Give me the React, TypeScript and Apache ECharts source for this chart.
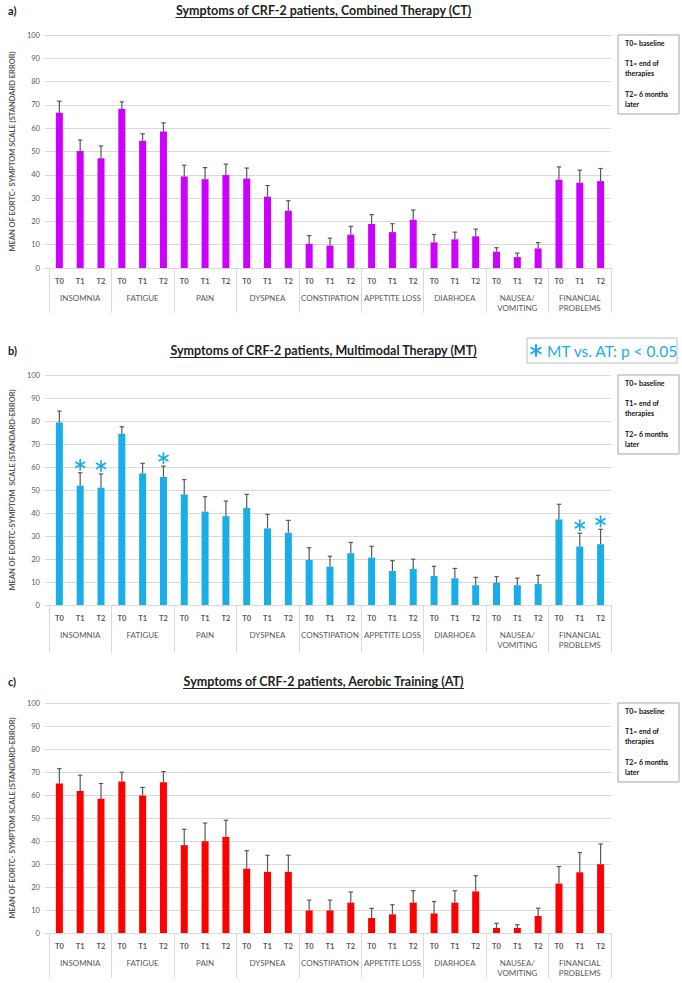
import React, { useEffect, useRef } from "react";
import * as echarts from "echarts";

// ---------- data ----------
const categories = [
  "INSOMNIA",
  "FATIGUE",
  "PAIN",
  "DYSPNEA",
  "CONSTIPATION",
  "APPETITE LOSS",
  "DIARHOEA",
  "NAUSEA/\nVOMITING",
  "FINANCIAL\nPROBLEMS",
];
const timepoints = ["T0", "T1", "T2"];
const yTicks = { min: 0, max: 100, interval: 10 };

// Combined Therapy (CT)
const ctMeans = [66.6, 50.2, 47.1, 68.3, 54.6, 58.6, 39.3, 38.1, 39.9, 38.4, 30.6, 24.6, 10.4, 9.6, 14.3, 18.9, 15.4, 20.7, 11, 12.3, 13.6, 7, 4.7, 8.4, 37.9, 36.6, 37.3];
const ctSE = [5, 4.7, 5.3, 3, 3, 3.7, 4.8, 5, 4.7, 4.5, 4.8, 4.3, 3.5, 3.2, 3.6, 4, 3.6, 4.2, 3.4, 3.1, 3.1, 1.7, 1.7, 2.5, 5.5, 5.4, 5.4];

// Multimodal Therapy (MT)
const mtMeans = [79.4, 51.9, 51, 74.5, 57.2, 55.7, 48.1, 40.6, 38.6, 42.2, 33.3, 31.4, 19.6, 16.7, 22.5, 20.6, 14.8, 15.7, 12.6, 11.6, 8.6, 9.7, 8.6, 9.1, 37.2, 25.4, 26.4];
const mtSE = [4.9, 5.6, 6, 3, 4.4, 4.7, 6.4, 6.5, 6.6, 5.9, 6.1, 5.4, 5.3, 4.5, 4.7, 4.9, 4.5, 4.2, 4.2, 4.3, 3.4, 2.6, 3.1, 3.8, 6.6, 5.8, 6.5];
const mtSignificant = [1, 2, 5, 25, 26]; // bar indices marked with * (MT vs. AT: p < 0.05)

// Aerobic Training (AT)
const atMeans = [65, 61.7, 58.4, 65.9, 59.8, 65.5, 38.2, 39.9, 41.8, 28, 26.6, 26.6, 9.8, 9.8, 13.2, 6.5, 8.1, 13.2, 8.5, 13.2, 18.1, 2.2, 2.2, 7.4, 21.5, 26.4, 29.9];
const atSE = [6.5, 6.9, 6.6, 4, 3.5, 4.7, 6.9, 7.9, 7.2, 7.8, 7.2, 7.2, 4.5, 4.5, 4.6, 4.2, 4.2, 5.2, 5.2, 5.2, 6.8, 2, 1.4, 3.4, 7.4, 8.6, 8.8];

const legendLines = ["T0= baseline", "T1= end of", "therapies", "T2= 6 months", "later"];
const significanceText = "MT vs. AT: p < 0.05";

// ---------- layout ----------
const W = 682;
const H = 983;
const FONT = "Lato";
const gridLeft = 36;
const gridWidth = 575;
const BLUE = "#19aee8";

const panels = [
  {
    tag: "a)",
    title: "Symptoms of CRF-2 patients, Combined Therapy (CT)",
    yName: "MEAN OF EORTC- SYMPTOM SCALE (STANDARD ERROR)",
    color: "#cc00ff",
    means: ctMeans,
    se: ctSE,
    stars: [] as number[],
    top: 35,
    height: 233,
    titleY: 10,
    tickLen: 45,
  },
  {
    tag: "b)",
    title: "Symptoms of CRF-2 patients, Multimodal Therapy (MT)",
    yName: "MEAN OF EORTC-SYMPTOM  SCALE (STANDARD-ERROR)",
    color: BLUE,
    means: mtMeans,
    se: mtSE,
    stars: mtSignificant,
    top: 375,
    height: 230,
    titleY: 350,
    tickLen: 48,
  },
  {
    tag: "c)",
    title: "Symptoms of CRF-2 patients, Aerobic Training (AT)",
    yName: "MEAN OF EORTC- SYMPTOM SCALE (STANDARD-ERROR)",
    color: "#ff0000",
    means: atMeans,
    se: atSE,
    stars: [] as number[],
    top: 703,
    height: 230,
    titleY: 681,
    tickLen: 45,
  },
];

function measure(text: string, font: string): number {
  const c = document.createElement("canvas").getContext("2d");
  if (!c) return text.length * 6;
  c.font = font;
  return c.measureText(text).width;
}

function starLines(cx: number, cy: number, r: number, color: string, lw: number) {
  return [90, 30, 150].map((deg) => {
    const a = (deg * Math.PI) / 180;
    const dx = r * Math.cos(a);
    const dy = r * Math.sin(a);
    return {
      type: "line",
      shape: { x1: cx - dx, y1: cy - dy, x2: cx + dx, y2: cy + dy },
      style: { stroke: color, lineWidth: lw, lineCap: "round" },
    };
  });
}

export default function App() {
  const ref = useRef<HTMLDivElement>(null);

  useEffect(() => {
    if (!ref.current) return;
    const chart = echarts.init(ref.current, null, { renderer: "svg", width: W, height: H });

    const xData = categories.flatMap((c) => timepoints.map((t) => c + "|" + t));

    const grids: any[] = [];
    const xAxes: any[] = [];
    const yAxes: any[] = [];
    const series: any[] = [];
    const graphics: any[] = [];

    panels.forEach((p, pi) => {
      grids.push({ left: gridLeft, width: gridWidth, top: p.top, height: p.height });
      // time-point level axis
      xAxes.push({
        type: "category",
        gridIndex: pi,
        data: xData,
        position: "bottom",
        axisLine: { show: true, lineStyle: { color: "#d9d9d9", width: 1 } },
        axisTick: { show: false },
        axisLabel: {
          interval: 0,
          margin: 9,
          fontSize: 7.5,
          fontFamily: FONT,
          fontWeight: "bold",
          color: "#595959",
          formatter: (v: string) => v.split("|")[1],
        },
        splitLine: { show: false },
      });
      // symptom level axis
      xAxes.push({
        type: "category",
        gridIndex: pi,
        data: categories,
        position: "bottom",
        axisLine: { show: false },
        axisTick: { show: true, length: p.tickLen, lineStyle: { color: "#d9d9d9", width: 1 } },
        axisLabel: {
          interval: 0,
          margin: 25,
          fontSize: 8,
          lineHeight: 10,
          fontFamily: FONT,
          color: "#595959",
        },
        splitLine: { show: false },
      });
      yAxes.push({
        type: "value",
        gridIndex: pi,
        min: yTicks.min,
        max: yTicks.max,
        interval: yTicks.interval,
        name: p.yName,
        nameLocation: "middle",
        nameRotate: 90,
        nameGap: 24,
        nameTextStyle: { fontSize: 7.5, fontWeight: "bold", fontFamily: FONT, color: "#595959" },
        axisLine: { show: false },
        axisTick: { show: true, length: 4, lineStyle: { color: "#d9d9d9" } },
        axisLabel: { fontSize: 7.5, fontFamily: FONT, color: "#595959", margin: 9 },
        splitLine: { show: true, lineStyle: { color: "#d9d9d9", width: 1 } },
      });

      const xi = pi * 2;
      series.push({
        type: "bar",
        xAxisIndex: xi,
        yAxisIndex: pi,
        data: p.means,
        barWidth: 7,
        itemStyle: { color: p.color },
        z: 2,
      });
      series.push({
        type: "custom",
        xAxisIndex: xi,
        yAxisIndex: pi,
        z: 3,
        data: p.means.map((m, i) => [i, m, p.se[i]]),
        renderItem: (params: any, api: any) => {
          const i = api.value(0);
          const m = api.value(1);
          const s = api.value(2);
          const b = api.coord([i, m]);
          const t = api.coord([i, m + s]);
          const st = { stroke: "#595959", lineWidth: 1.2 };
          return {
            type: "group",
            children: [
              { type: "line", shape: { x1: b[0], y1: b[1], x2: t[0], y2: t[1] }, style: st },
              { type: "line", shape: { x1: t[0] - 2.2, y1: t[1], x2: t[0] + 2.2, y2: t[1] }, style: st },
            ],
          };
        },
      });
      if (p.stars.length) {
        series.push({
          type: "custom",
          xAxisIndex: xi,
          yAxisIndex: pi,
          z: 4,
          data: p.stars.map((i) => [i, p.means[i] + p.se[i]]),
          renderItem: (params: any, api: any) => {
            const c = api.coord([api.value(0), api.value(1)]);
            return { type: "group", children: starLines(c[0], c[1] - 8, 5.2, BLUE, 1.7) };
          },
        });
      }

      // title + underline
      const titleFont = `bold 12.5px ${FONT}`;
      const tw = measure(p.title, titleFont);
      const cx = gridLeft + gridWidth / 2;
      graphics.push({
        type: "text",
        x: cx,
        y: p.titleY,
        style: { text: p.title, font: titleFont, fill: "#222", align: "center", verticalAlign: "middle" },
      });
      graphics.push({
        type: "line",
        shape: { x1: cx - tw / 2, y1: p.titleY + 7.5, x2: cx + tw / 2, y2: p.titleY + 7.5 },
        style: { stroke: "#222", lineWidth: 1 },
      });
      graphics.push({
        type: "text",
        x: 8,
        y: p.titleY,
        style: { text: p.tag, font: `bold 11px ${FONT}`, fill: "#222", align: "left", verticalAlign: "middle" },
      });

      // legend box
      const bx = 618;
      const by = p.top;
      graphics.push({
        type: "rect",
        shape: { x: bx, y: by, width: 61, height: 79 },
        style: { fill: "#fff", stroke: "#a6a6a6", lineWidth: 1 },
      });
      const offs = [8, 28, 38, 59, 69];
      legendLines.forEach((ln, li) => {
        graphics.push({
          type: "text",
          x: bx + 7,
          y: by + offs[li],
          style: { text: ln, font: `bold 7px ${FONT}`, fill: "#111", align: "left", verticalAlign: "middle" },
        });
      });

      if (p.stars.length) {
        // significance box
        graphics.push({
          type: "rect",
          shape: { x: 527, y: 338, width: 150, height: 25 },
          style: { fill: "#fff", stroke: "#bfbfbf", lineWidth: 1 },
        });
        graphics.push({ type: "group", children: starLines(536, 350.5, 5.5, BLUE, 2) });
        graphics.push({
          type: "text",
          x: 547,
          y: 351,
          style: { text: significanceText, font: `15.5px ${FONT}`, fill: BLUE, align: "left", verticalAlign: "middle" },
        });
      }
    });

    chart.setOption({
      animation: false,
      backgroundColor: "#fff",
      grid: grids,
      xAxis: xAxes,
      yAxis: yAxes,
      series,
      graphic: graphics,
    });

    return () => chart.dispose();
  }, []);

  return (
    <div
      ref={ref}
      style={{ position: "absolute", left: 0, top: 0, width: W, height: H, background: "#fff" }}
    />
  );
}
